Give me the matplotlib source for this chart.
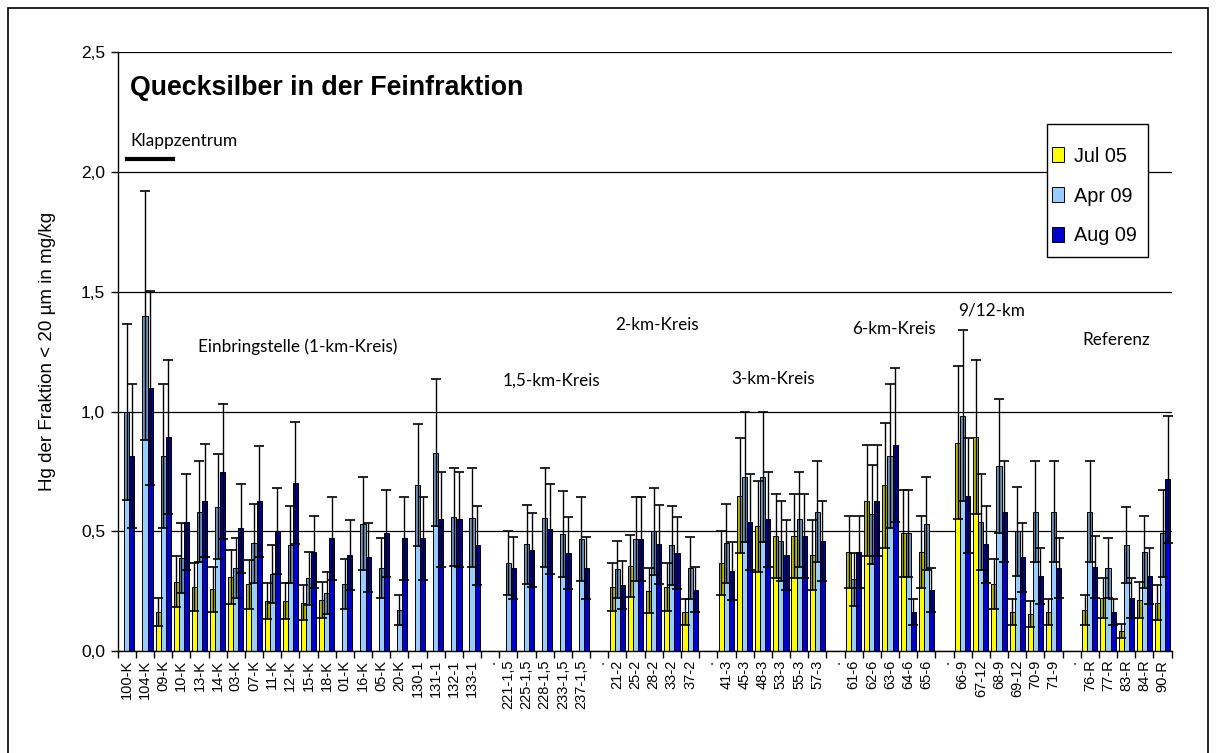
import numpy as np
import matplotlib.pyplot as plt
from matplotlib.patches import Rectangle
from matplotlib.lines import Line2D

nan = np.nan

stations = ["100-K", "104-K", "09-K", "10-K", "13-K", "14-K", "03-K", "07-K",
            "11-K", "12-K", "15-K", "18-K", "01-K", "16-K", "05-K", "20-K",
            "130-1", "131-1", "132-1", "133-1", ".",
            "221-1,5", "225-1,5", "228-1,5", "233-1,5", "237-1,5", ".",
            "21-2", "25-2", "28-2", "33-2", "37-2", ".",
            "41-3", "45-3", "48-3", "53-3", "55-3", "57-3", ".",
            "61-6", "62-6", "63-6", "64-6", "65-6", ".",
            "66-9", "67-12", "68-9", "69-12", "70-9", "71-9", ".",
            "76-R", "77-R", "83-R", "84-R", "90-R"]

# Jul 05
jul05 = [nan, nan, 0.165, 0.29, 0.269, 0.258, 0.311, 0.279,
         0.21, 0.21, 0.203, 0.214, nan, nan, nan, nan,
         nan, nan, nan, nan, nan,
         nan, nan, nan, nan, nan, nan,
         0.269, 0.357, 0.253, 0.269, 0.163, nan,
         0.369, 0.649, 0.522, 0.481, 0.481, 0.401, nan,
         0.413, 0.628, 0.693, 0.492, 0.413, nan,
         0.871, 0.894, 0.281, 0.165, 0.156, 0.165, nan,
         0.172, 0.224, 0.086, 0.214, 0.203]
jul05_err = [nan, nan, 0.058, 0.107, 0.099, 0.095, 0.113, 0.103,
             0.077, 0.077, 0.074, 0.076, nan, nan, nan, nan,
             nan, nan, nan, nan, nan,
             nan, nan, nan, nan, nan, nan,
             0.099, 0.129, 0.093, 0.1, 0.055, nan,
             0.135, 0.24, 0.19, 0.175, 0.175, 0.145, nan,
             0.15, 0.232, 0.26, 0.18, 0.15, nan,
             0.32, 0.32, 0.104, 0.055, 0.055, 0.055, nan,
             0.064, 0.083, 0.03, 0.077, 0.074]

# Apr 09
apr09 = [1.0, 1.40, 0.816, 0.39, 0.583, 0.604, 0.346, 0.45,
         0.322, 0.445, 0.304, 0.244, 0.281, 0.533, 0.346, 0.172,
         0.693, 0.829, 0.561, 0.558, nan,
         0.368, 0.447, 0.558, 0.489, 0.468, nan,
         0.342, 0.468, 0.5, 0.443, 0.347, nan,
         0.45, 0.728, 0.728, 0.46, 0.55, 0.582, nan,
         0.301, 0.571, 0.814, 0.492, 0.533, nan,
         0.982, 0.54, 0.772, 0.501, 0.582, 0.582, nan,
         0.582, 0.346, 0.443, 0.413, 0.492]
apr09_err = [0.367, 0.52, 0.3, 0.145, 0.21, 0.22, 0.125, 0.165,
             0.12, 0.16, 0.11, 0.088, 0.104, 0.195, 0.125, 0.064,
             0.255, 0.305, 0.205, 0.205, nan,
             0.135, 0.165, 0.205, 0.18, 0.174, nan,
             0.12, 0.174, 0.18, 0.165, 0.13, nan,
             0.165, 0.27, 0.27, 0.165, 0.2, 0.21, nan,
             0.11, 0.205, 0.3, 0.18, 0.195, nan,
             0.357, 0.2, 0.28, 0.185, 0.21, 0.21, nan,
             0.21, 0.125, 0.16, 0.15, 0.18]

# Aug 09
aug09 = [0.816, 1.099, 0.894, 0.541, 0.629, 0.75, 0.513, 0.625,
         0.502, 0.702, 0.413, 0.471, 0.401, 0.392, 0.492, 0.471,
         0.471, 0.55, 0.55, 0.443, nan,
         0.347, 0.422, 0.51, 0.41, 0.347, nan,
         0.278, 0.468, 0.447, 0.41, 0.257, nan,
         0.335, 0.538, 0.55, 0.401, 0.481, 0.46, nan,
         0.413, 0.628, 0.86, 0.165, 0.256, nan,
         0.649, 0.446, 0.582, 0.392, 0.314, 0.346, nan,
         0.353, 0.165, 0.224, 0.314, 0.718]
aug09_err = [0.3, 0.405, 0.32, 0.2, 0.234, 0.28, 0.187, 0.23,
             0.18, 0.255, 0.15, 0.174, 0.145, 0.145, 0.18, 0.174,
             0.174, 0.2, 0.2, 0.165, nan,
             0.13, 0.155, 0.187, 0.15, 0.13, nan,
             0.1, 0.174, 0.165, 0.15, 0.093, nan,
             0.12, 0.2, 0.2, 0.145, 0.175, 0.165, nan,
             0.15, 0.232, 0.32, 0.055, 0.093, nan,
             0.24, 0.16, 0.21, 0.145, 0.115, 0.125, nan,
             0.13, 0.055, 0.083, 0.115, 0.265]

series = [("Jul 05", jul05, jul05_err, "#ffff00"),
          ("Apr 09", apr09, apr09_err, "#99ccff"),
          ("Aug 09", aug09, aug09_err, "#0000cc")]

# area labels (text, x in category units, y in mg/kg)
areas = [("Einbringstelle (1-km-Kreis)", 3.9, 1.27),
         ("1,5-km-Kreis", 20.7, 1.13),
         ("2-km-Kreis", 26.9, 1.36),
         ("3-km-Kreis", 33.25, 1.135),
         ("6-km-Kreis", 39.9, 1.345),
         ("9/12-km", 45.75, 1.42),
         ("Referenz", 52.6, 1.30)]

plt.rcParams['font.family'] = ['Liberation Sans', 'DejaVu Sans']
note_font = 'Lato'

fig = plt.figure(figsize=(12.16, 7.53), dpi=100)
ax = fig.add_axes([0.0968, 0.135, 0.8667, 0.796])

# outer chart frame
fig.patches.append(Rectangle((8 / 1216, -0.01), 1200 / 1216, 1 - 8 / 753 + 0.01,
                             transform=fig.transFigure, fill=False,
                             edgecolor='black', linewidth=1.2))

x = np.arange(len(stations))
width = 0.28
offsets = [-width, 0, width]

for (name, vals, errs, color), off in zip(series, offsets):
    vals = np.array(vals)
    errs = np.array(errs)
    ok = ~np.isnan(vals)
    xs = x[ok] + off
    ax.bar(xs, vals[ok], width, color=color, edgecolor='black',
           linewidth=0.7, label=name, zorder=2)
    # darker band between lower whisker and bar top
    low = np.clip(vals[ok] - errs[ok], 0, None)
    ax.bar(xs, vals[ok] - low, width, bottom=low, color='black', alpha=0.27,
           linewidth=0, zorder=3)
    ax.errorbar(xs, vals[ok], yerr=errs[ok], fmt='none', ecolor='black',
                elinewidth=1, capsize=3.5, capthick=1.2, zorder=4)

ax.set_xlim(-0.5, len(stations) - 0.5)
ax.set_ylim(0, 2.5)

yt = np.arange(0, 2.51, 0.5)
ax.set_yticks(yt)
ax.set_yticklabels([f"{v:.1f}".replace('.', ',') for v in yt], fontsize=12.5)
ax.yaxis.grid(True, color='black', linewidth=0.9)
ax.set_axisbelow(True)
ax.tick_params(axis='y', direction='out', length=5, width=1, pad=4)

ax.set_xticks(x)
ax.set_xticklabels(stations, rotation=90, fontsize=10.5)
ax.set_xticks(np.arange(-0.5, len(stations), 1), minor=True)
ax.tick_params(axis='x', which='major', length=0, pad=6)
ax.tick_params(axis='x', which='minor', direction='out', length=5, width=1)

for s in ['top', 'right']:
    ax.spines[s].set_visible(False)
for s in ['left', 'bottom']:
    ax.spines[s].set_linewidth(1)

ax.set_ylabel("Hg der Fraktion < 20 µm in mg/kg", fontsize=13.5, labelpad=18)

ax.text(0.18, 2.35, "Quecksilber in der Feinfraktion", fontsize=19.3,
        fontweight='bold', va='center', ha='left')
ax.text(0.18, 2.13, "Klappzentrum", fontsize=12.5, family=note_font,
        va='center', ha='left')
ax.add_line(Line2D([0.02, 2.55], [2.055, 2.055], color='black', linewidth=3))

for label, xp, yp in areas:
    ax.text(xp, yp, label, fontsize=12.3, family=note_font, va='center',
            ha='left')

# legend box drawn separately so its padding can follow the original
ax.add_patch(Rectangle((0.8818, 0.658), 0.0958, 0.222, transform=ax.transAxes,
                       facecolor='white', edgecolor='black', linewidth=1,
                       zorder=5))
leg = ax.legend(loc='upper left', bbox_to_anchor=(0.8865, 0.842),
                fontsize=14.3, frameon=False, labelspacing=1.05,
                handlelength=0.62, handleheight=0.75, handletextpad=0.5,
                borderpad=0, borderaxespad=0)
leg.set_zorder(6)

fig.savefig('out.png', dpi=100)
